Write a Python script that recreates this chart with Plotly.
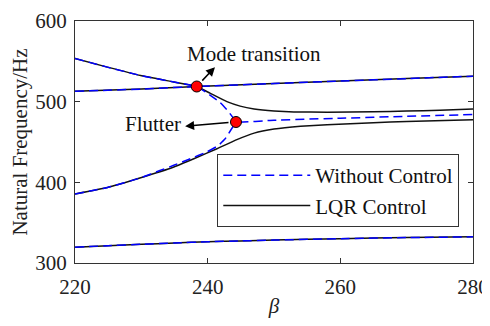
import plotly.graph_objects as go

# ---- data ----
# Mode B (same with and without control)
beta_b = [220, 230, 238.35, 250, 260, 270, 280]
freq_b = [512.8, 515.6, 518.8, 522.5, 525.5, 528.6, 531.6]

# Mode A, without control (descends to flutter point, then coalesced branch)
beta_a_nc = [220, 224.87, 229.9, 234.9, 238.35, 239.85, 241.86, 243.1, 243.87, 244.27,
             250, 260, 270, 280]
freq_a_nc = [553.6, 542.8, 532.4, 524.4, 518.8, 511.0, 499.0, 488.0, 479.6, 474.8,
             477.0, 479.5, 481.8, 484.0]

# Mode C, without control (rises to flutter point)
beta_c_nc = [220, 224.9, 229.9, 232.8, 234.8, 237.3, 239.85, 241.6, 242.6, 243.4, 244.27]
freq_c_nc = [385.6, 393.6, 405.6, 414.6, 420.8, 429.0, 437.6, 445.6, 453.6, 463.6, 474.8]

# Mode A, LQR control
beta_a_c = [220, 224.87, 229.9, 234.9, 238.35, 240.35, 242.9, 244.9, 247, 250, 253, 258,
            265, 270, 275, 280]
freq_a_c = [553.6, 542.8, 532.4, 524.4, 518.8, 510.5, 500.0, 494.5, 491.0, 488.5, 487.3,
            487.0, 487.5, 488.3, 489.5, 490.8]

# Mode C, LQR control
beta_c_c = [220, 224.9, 229.9, 234.9, 238, 241.4, 244.4, 247, 250, 254, 258, 265, 270, 280]
freq_c_c = [385.6, 393.6, 405.6, 419.0, 429.5, 441.6, 453.0, 461.0, 466.0, 469.5, 471.5,
            474.0, 475.5, 477.5]

# Mode D (lowest, same for both)
beta_d = [220, 225, 230, 235, 240, 245, 250, 260, 270, 280]
freq_d = [319.6, 321.5, 323.2, 324.8, 326.3, 327.4, 328.4, 330.2, 331.5, 332.4]

# Marked points
pts_beta = [238.35, 244.27]
pts_freq = [518.8, 474.8]
pts_names = ["Mode transition", "Flutter"]

x_ticks = [220, 240, 260, 280]
y_ticks = [300, 400, 500, 600]

FONT = "Liberation Serif, Times New Roman, serif"
BLUE = "#0000ff"
BLACK = "#111111"
DASH = "9px,5px"
LINE_SHAPE = dict(shape="spline", smoothing=0.35)

fig = go.Figure()

# LQR control (black solid) underneath
controlled = [(beta_b, freq_b), (beta_a_c, freq_a_c), (beta_c_c, freq_c_c), (beta_d, freq_d)]
for i, (bx, fy) in enumerate(controlled):
    fig.add_trace(go.Scatter(
        x=bx, y=fy, mode="lines", line=dict(color=BLACK, width=1.5, **LINE_SHAPE),
        name="LQR Control", showlegend=(i == 0), legendrank=2))

# Without control (blue dashed) on top
uncontrolled = [(beta_b, freq_b), (beta_a_nc, freq_a_nc), (beta_c_nc, freq_c_nc), (beta_d, freq_d)]
for i, (bx, fy) in enumerate(uncontrolled):
    fig.add_trace(go.Scatter(
        x=bx, y=fy, mode="lines",
        line=dict(color=BLUE, width=1.5, dash=DASH, **LINE_SHAPE),
        name="Without Control", showlegend=(i == 0), legendrank=1))

# Red markers
fig.add_trace(go.Scatter(
    x=pts_beta, y=pts_freq, mode="markers", showlegend=False,
    marker=dict(color="#ff0000", size=11, line=dict(color="#000000", width=1))))

# Annotations: text
fig.add_annotation(x=247.0, y=559.6, text=pts_names[0], showarrow=False,
                   xanchor="center", yanchor="middle",
                   font=dict(family=FONT, size=21, color="#111111"))
fig.add_annotation(x=231.7, y=472.2, text=pts_names[1], showarrow=False,
                   xanchor="center", yanchor="middle",
                   font=dict(family=FONT, size=21, color="#111111"))
# Annotations: arrows from points
fig.add_annotation(x=241.1, y=542.8, ax=pts_beta[0], ay=pts_freq[0], axref="x", ayref="y",
                   text="", showarrow=True, arrowhead=2, arrowsize=1.2, arrowwidth=1.5,
                   arrowcolor="#000000", startstandoff=6)
fig.add_annotation(x=236.6, y=469.6, ax=pts_beta[1], ay=pts_freq[1], axref="x", ayref="y",
                   text="", showarrow=True, arrowhead=2, arrowsize=1.2, arrowwidth=1.5,
                   arrowcolor="#000000", startstandoff=6)

axis_common = dict(
    showline=True, linecolor="#333333", linewidth=1, mirror="ticks",
    ticks="inside", ticklen=5, tickcolor="#333333", tickwidth=1,
    showgrid=False, zeroline=False, ticklabeloverflow="allow",
    tickfont=dict(family=FONT, size=21, color="#222222"),
)

fig.update_xaxes(range=[220, 280], tickvals=x_ticks, ticklabelstandoff=5, automargin=False,
                 **axis_common,
                 title=dict(text="<i>β</i>", font=dict(family=FONT, size=21, color="#222222"),
                            standoff=8))
fig.update_yaxes(range=[300, 600], tickvals=y_ticks, ticklabelstandoff=3, automargin="left",
                 **axis_common,
                 title=dict(text="Natural Frequency/Hz",
                            font=dict(family=FONT, size=21, color="#222222"), standoff=2))

# page body adds an ~8px offset, so the figure is sized/placed to compensate
fig.update_layout(
    width=482, height=310,
    margin=dict(l=67, r=17, t=13, b=55),
    paper_bgcolor="white", plot_bgcolor="white",
    legend=dict(x=0.3575, y=0.45, xanchor="left", yanchor="top",
                bordercolor="#333333", borderwidth=1, bgcolor="white",
                font=dict(family=FONT, size=21, color="#111111"),
                tracegroupgap=0, itemwidth=87),
    showlegend=True,
)

fig.write_html("out.html")
